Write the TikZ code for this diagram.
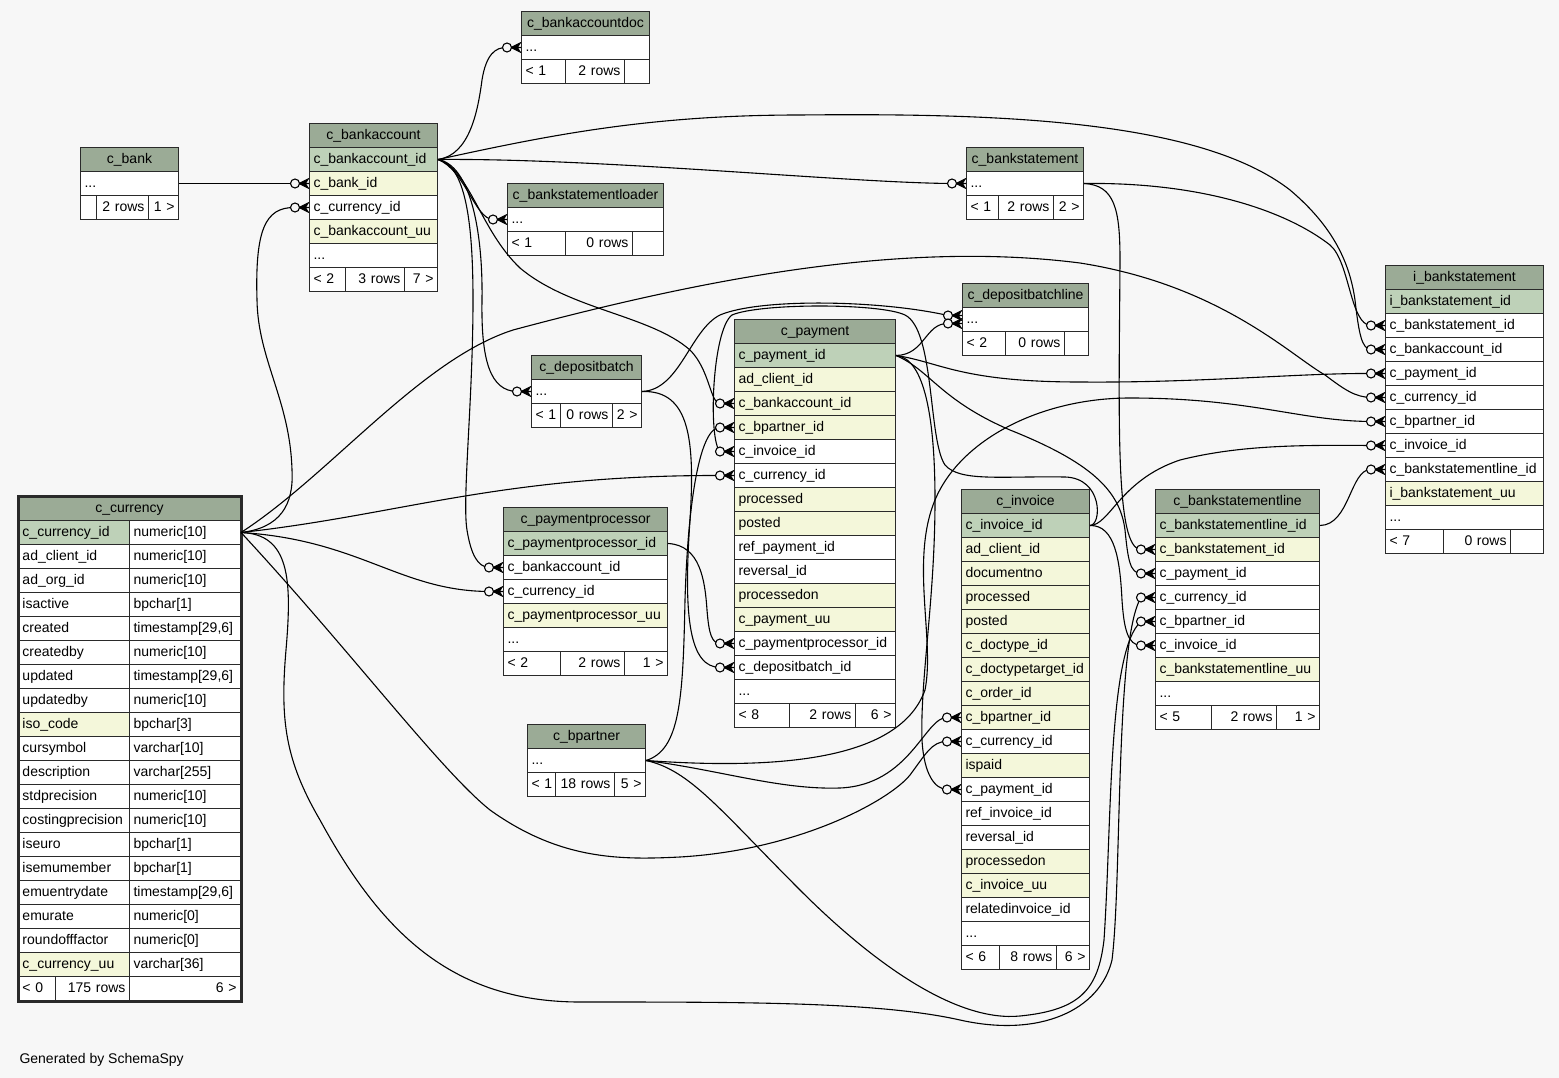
\documentclass[tikz,border=0pt]{standalone}
\usepackage{fontspec}
\setmainfont{Liberation Sans}
\definecolor{bgcol}{HTML}{F7F7F7}
\definecolor{headgreen}{HTML}{9BAB96}
\definecolor{pkgreen}{HTML}{BED1B8}
\definecolor{idxyellow}{HTML}{F4F7DA}
\definecolor{tabline}{HTML}{2A2A2A}
\begin{document}
\begin{tikzpicture}[x=1pt, y=-1pt, font=\fontsize{14}{16}\selectfont,
  tcell/.style={draw=tabline, line width=1pt, fill=white, anchor=north west, inner xsep=4pt, inner ysep=0pt,
    minimum height=24pt, text height=10.5pt, text depth=2.5pt, text width=#1, align=left},
  thead/.style={tcell=#1, fill=headgreen, align=center},
  tpk/.style={tcell=#1, fill=pkgreen},
  tidx/.style={tcell=#1, fill=idxyellow},
  tnum/.style={tcell=#1, align=right},
  rel/.style={draw=black, line width=1.1pt},
  crowfoot/.pic={
    \fill (-10,0) -- (0,-5) -- (-3,0) -- (0,5) -- cycle;
    \draw[rel] (-10,0) -- (0,-5) (-10,0) -- (0,0) (-10,0) -- (0,5);
    \draw[rel, fill=bgcol] (-14,0) circle (4.5pt);
  }]
\fill[bgcol] (0,0) rectangle (1559,1078);
\useasboundingbox (0,0) rectangle (1559,1078);

\node[thead=120pt] (bad) at (521,11) {c\_bankaccountdoc};
\node[tcell=120pt] (bad-dots) at (521,35) {...};
\node[tcell=36pt] (bad-f1) at (521,59) {<~1};
\node[tnum=51pt] (bad-f2) at (565,59) {2~rows};
\node[tcell=17pt] (bad-f3) at (624,59) {};

\node[thead=90pt] (bank) at (80,147) {c\_bank};
\node[tcell=90pt] (bank-dots) at (80,171) {...};
\node[tcell=8pt] (bank-f1) at (80,195) {};
\node[tnum=44pt] (bank-f2) at (96,195) {2~rows};
\node[tnum=22pt] (bank-f3) at (148,195) {1~>};

\node[thead=120pt] (ba) at (309,123) {c\_bankaccount};
\node[tpk=120pt] (ba-id) at (309,147) {c\_bankaccount\_id};
\node[tidx=120pt] (ba-bank) at (309,171) {c\_bank\_id};
\node[tcell=120pt] (ba-cur) at (309,195) {c\_currency\_id};
\node[tidx=120pt] (ba-uu) at (309,219) {c\_bankaccount\_uu};
\node[tcell=120pt] (ba-dots) at (309,243) {...};
\node[tcell=28pt] (ba-f1) at (309,267) {<~2};
\node[tnum=51pt] (ba-f2) at (345,267) {3~rows};
\node[tnum=25pt] (ba-f3) at (404,267) {7~>};

\node[thead=148pt] (ldr) at (507,183) {c\_bankstatementloader};
\node[tcell=148pt] (ldr-dots) at (507,207) {...};
\node[tcell=50pt] (ldr-f1) at (507,231) {<~1};
\node[tnum=59pt] (ldr-f2) at (565,231) {0~rows};
\node[tcell=23pt] (ldr-f3) at (632,231) {};

\node[thead=109pt] (bst) at (966,147) {c\_bankstatement};
\node[tcell=109pt] (bst-dots) at (966,171) {...};
\node[tcell=24pt] (bst-f1) at (966,195) {<~1};
\node[tnum=47pt] (bst-f2) at (998,195) {2~rows};
\node[tnum=22pt] (bst-f3) at (1053,195) {2~>};

\node[thead=118pt] (dbl) at (962,283) {c\_depositbatchline};
\node[tcell=118pt] (dbl-dots) at (962,307) {...};
\node[tcell=35pt] (dbl-f1) at (962,331) {<~2};
\node[tnum=51pt] (dbl-f2) at (1005,331) {0~rows};
\node[tcell=16pt] (dbl-f3) at (1064,331) {};

\node[thead=102pt] (dbat) at (531,355) {c\_depositbatch};
\node[tcell=102pt] (dbat-dots) at (531,379) {...};
\node[tcell=21pt] (dbat-f1) at (531,403) {<~1};
\node[tnum=44pt] (dbat-f2) at (560,403) {0~rows};
\node[tnum=21pt] (dbat-f3) at (612,403) {2~>};

\node[thead=153pt] (pay) at (734,319) {c\_payment};
\node[tpk=153pt] (pay-id) at (734,343) {c\_payment\_id};
\node[tidx=153pt] (pay-cli) at (734,367) {ad\_client\_id};
\node[tidx=153pt] (pay-bacct) at (734,391) {c\_bankaccount\_id};
\node[tidx=153pt] (pay-bp) at (734,415) {c\_bpartner\_id};
\node[tcell=153pt] (pay-inv) at (734,439) {c\_invoice\_id};
\node[tcell=153pt] (pay-cur) at (734,463) {c\_currency\_id};
\node[tidx=153pt] (pay-proc) at (734,487) {processed};
\node[tidx=153pt] (pay-post) at (734,511) {posted};
\node[tcell=153pt] (pay-ref) at (734,535) {ref\_payment\_id};
\node[tcell=153pt] (pay-rev) at (734,559) {reversal\_id};
\node[tidx=153pt] (pay-pon) at (734,583) {processedon};
\node[tidx=153pt] (pay-uu) at (734,607) {c\_payment\_uu};
\node[tcell=153pt] (pay-pp) at (734,631) {c\_paymentprocessor\_id};
\node[tcell=153pt] (pay-db) at (734,655) {c\_depositbatch\_id};
\node[tcell=153pt] (pay-dots) at (734,679) {...};
\node[tcell=47pt] (pay-f1) at (734,703) {<~8};
\node[tnum=58pt] (pay-f2) at (789,703) {2~rows};
\node[tnum=32pt] (pay-f3) at (855,703) {6~>};

\node[thead=156pt] (pp) at (503,507) {c\_paymentprocessor};
\node[tpk=156pt] (pp-id) at (503,531) {c\_paymentprocessor\_id};
\node[tcell=156pt] (pp-bacct) at (503,555) {c\_bankaccount\_id};
\node[tcell=156pt] (pp-cur) at (503,579) {c\_currency\_id};
\node[tidx=156pt] (pp-uu) at (503,603) {c\_paymentprocessor\_uu};
\node[tcell=156pt] (pp-dots) at (503,627) {...};
\node[tcell=49pt] (pp-f1) at (503,651) {<~2};
\node[tnum=56pt] (pp-f2) at (560,651) {2~rows};
\node[tnum=35pt] (pp-f3) at (624,651) {1~>};

\node[thead=110pt] (bp) at (527,724) {c\_bpartner};
\node[tcell=110pt] (bp-dots) at (527,748) {...};
\node[tcell=20pt] (bp-f1) at (527,772) {<~1};
\node[tnum=51pt] (bp-f2) at (555,772) {18~rows};
\node[tnum=23pt] (bp-f3) at (614,772) {5~>};

\node[thead=214pt] (cur) at (18,496) {c\_currency};
\node[tpk=103pt] (cur-id) at (18,520) {c\_currency\_id};
\node[tcell=103pt] (cur-idt) at (129,520) {numeric[10]};
\node[tcell=103pt] (cur-cli) at (18,544) {ad\_client\_id};
\node[tcell=103pt] (cur-clit) at (129,544) {numeric[10]};
\node[tcell=103pt] (cur-org) at (18,568) {ad\_org\_id};
\node[tcell=103pt] (cur-orgt) at (129,568) {numeric[10]};
\node[tcell=103pt] (cur-act) at (18,592) {isactive};
\node[tcell=103pt] (cur-actt) at (129,592) {bpchar[1]};
\node[tcell=103pt] (cur-cr) at (18,616) {created};
\node[tcell=103pt] (cur-crt) at (129,616) {timestamp[29,6]};
\node[tcell=103pt] (cur-crb) at (18,640) {createdby};
\node[tcell=103pt] (cur-crbt) at (129,640) {numeric[10]};
\node[tcell=103pt] (cur-up) at (18,664) {updated};
\node[tcell=103pt] (cur-upt) at (129,664) {timestamp[29,6]};
\node[tcell=103pt] (cur-upb) at (18,688) {updatedby};
\node[tcell=103pt] (cur-upbt) at (129,688) {numeric[10]};
\node[tidx=103pt] (cur-iso) at (18,712) {iso\_code};
\node[tcell=103pt] (cur-isot) at (129,712) {bpchar[3]};
\node[tcell=103pt] (cur-sym) at (18,736) {cursymbol};
\node[tcell=103pt] (cur-symt) at (129,736) {varchar[10]};
\node[tcell=103pt] (cur-desc) at (18,760) {description};
\node[tcell=103pt] (cur-desct) at (129,760) {varchar[255]};
\node[tcell=103pt] (cur-std) at (18,784) {stdprecision};
\node[tcell=103pt] (cur-stdt) at (129,784) {numeric[10]};
\node[tcell=103pt] (cur-cost) at (18,808) {costingprecision};
\node[tcell=103pt] (cur-costt) at (129,808) {numeric[10]};
\node[tcell=103pt] (cur-euro) at (18,832) {iseuro};
\node[tcell=103pt] (cur-eurot) at (129,832) {bpchar[1]};
\node[tcell=103pt] (cur-emu) at (18,856) {isemumember};
\node[tcell=103pt] (cur-emut) at (129,856) {bpchar[1]};
\node[tcell=103pt] (cur-emud) at (18,880) {emuentrydate};
\node[tcell=103pt] (cur-emudt) at (129,880) {timestamp[29,6]};
\node[tcell=103pt] (cur-emur) at (18,904) {emurate};
\node[tcell=103pt] (cur-emurt) at (129,904) {numeric[0]};
\node[tcell=103pt] (cur-round) at (18,928) {roundofffactor};
\node[tcell=103pt] (cur-roundt) at (129,928) {numeric[0]};
\node[tidx=103pt] (cur-uu) at (18,952) {c\_currency\_uu};
\node[tcell=103pt] (cur-uut) at (129,952) {varchar[36]};
\node[tcell=29pt] (cur-f1) at (18,976) {<~0};
\node[tnum=66pt] (cur-f2) at (55,976) {175~rows};
\node[tnum=103pt] (cur-f3) at (129,976) {6~>};
\draw[tabline, line width=3pt] (cur.north west) rectangle (cur-f3.south east);

\node[thead=120pt] (inv) at (961,489) {c\_invoice};
\node[tpk=120pt] (inv-id) at (961,513) {c\_invoice\_id};
\node[tidx=120pt] (inv-cli) at (961,537) {ad\_client\_id};
\node[tidx=120pt] (inv-doc) at (961,561) {documentno};
\node[tidx=120pt] (inv-proc) at (961,585) {processed};
\node[tidx=120pt] (inv-post) at (961,609) {posted};
\node[tidx=120pt] (inv-dt) at (961,633) {c\_doctype\_id};
\node[tidx=120pt] (inv-dtt) at (961,657) {c\_doctypetarget\_id};
\node[tidx=120pt] (inv-ord) at (961,681) {c\_order\_id};
\node[tidx=120pt] (inv-bp) at (961,705) {c\_bpartner\_id};
\node[tcell=120pt] (inv-cur) at (961,729) {c\_currency\_id};
\node[tidx=120pt] (inv-paid) at (961,753) {ispaid};
\node[tcell=120pt] (inv-pay) at (961,777) {c\_payment\_id};
\node[tcell=120pt] (inv-ref) at (961,801) {ref\_invoice\_id};
\node[tcell=120pt] (inv-rev) at (961,825) {reversal\_id};
\node[tidx=120pt] (inv-pon) at (961,849) {processedon};
\node[tidx=120pt] (inv-uu) at (961,873) {c\_invoice\_uu};
\node[tcell=120pt] (inv-rel) at (961,897) {relatedinvoice\_id};
\node[tcell=120pt] (inv-dots) at (961,921) {...};
\node[tcell=30pt] (inv-f1) at (961,945) {<~6};
\node[tnum=49pt] (inv-f2) at (999,945) {8~rows};
\node[tnum=25pt] (inv-f3) at (1056,945) {6~>};

\node[thead=156pt] (bsl) at (1155,489) {c\_bankstatementline};
\node[tpk=156pt] (bsl-id) at (1155,513) {c\_bankstatementline\_id};
\node[tidx=156pt] (bsl-bst) at (1155,537) {c\_bankstatement\_id};
\node[tcell=156pt] (bsl-pay) at (1155,561) {c\_payment\_id};
\node[tcell=156pt] (bsl-cur) at (1155,585) {c\_currency\_id};
\node[tcell=156pt] (bsl-bp) at (1155,609) {c\_bpartner\_id};
\node[tcell=156pt] (bsl-inv) at (1155,633) {c\_invoice\_id};
\node[tidx=156pt] (bsl-uu) at (1155,657) {c\_bankstatementline\_uu};
\node[tcell=156pt] (bsl-dots) at (1155,681) {...};
\node[tcell=48pt] (bsl-f1) at (1155,705) {<~5};
\node[tnum=57pt] (bsl-f2) at (1211,705) {2~rows};
\node[tnum=35pt] (bsl-f3) at (1276,705) {1~>};

\node[thead=150pt] (ibs) at (1385,265) {i\_bankstatement};
\node[tpk=150pt] (ibs-id) at (1385,289) {i\_bankstatement\_id};
\node[tcell=150pt] (ibs-bst) at (1385,313) {c\_bankstatement\_id};
\node[tcell=150pt] (ibs-bacct) at (1385,337) {c\_bankaccount\_id};
\node[tcell=150pt] (ibs-pay) at (1385,361) {c\_payment\_id};
\node[tcell=150pt] (ibs-cur) at (1385,385) {c\_currency\_id};
\node[tcell=150pt] (ibs-bp) at (1385,409) {c\_bpartner\_id};
\node[tcell=150pt] (ibs-inv) at (1385,433) {c\_invoice\_id};
\node[tcell=150pt] (ibs-bsl) at (1385,457) {c\_bankstatementline\_id};
\node[tidx=150pt] (ibs-uu) at (1385,481) {i\_bankstatement\_uu};
\node[tcell=150pt] (ibs-dots) at (1385,505) {...};
\node[tcell=50pt] (ibs-f1) at (1385,529) {<~7};
\node[tnum=59pt] (ibs-f2) at (1443,529) {0~rows};
\node[tcell=25pt] (ibs-f3) at (1510,529) {};

\node[anchor=base west] (gen) at (16,1063) {Generated by SchemaSpy};

\draw[rel] (bank-dots.east) -- ([xshift=-14pt]ba-bank.west);
\draw[rel] (cur-idt.east) .. controls (280,528) and (294,505) .. (292,470) .. controls (290,400) and (258,360) .. (257,300) .. controls (255,230) and (265,207) .. ([xshift=-14pt]ba-cur.west);
\draw[rel] (ba-id.east) .. controls (470,155) and (478,110) .. (482,80) .. controls (486,55) and (495,47) .. ([xshift=-14pt]bad-dots.west);
\draw[rel] (ba-id.east) .. controls (465,170) and (475,219) .. ([xshift=-14pt]ldr-dots.west);
\draw[rel] (ba-id.east) .. controls (600,158) and (850,183) .. ([xshift=-14pt]bst-dots.west);
\draw[rel] (ba-id.east) .. controls (550,135) and (650,115) .. (800,115) .. controls (1000,113) and (1200,120) .. (1290,190) .. controls (1335,228) and (1350,265) .. (1355,300) .. controls (1359,335) and (1362,349) .. ([xshift=-14pt]ibs-bacct.west);
\draw[rel] (ba-id.east) .. controls (470,165) and (483,230) .. (482,300) .. controls (481,360) and (490,391) .. ([xshift=-14pt]dbat-dots.west);
\draw[rel] (ba-id.east) .. controls (465,165) and (473,220) .. (473,300) .. controls (473,400) and (462,500) .. (467,530) .. controls (471,555) and (478,567) .. ([xshift=-14pt]pp-bacct.west);
\draw[rel] (ba-id.east) .. controls (470,170) and (480,230) .. (520,268) .. controls (570,310) and (650,315) .. (690,350) .. controls (710,370) and (710,403) .. ([xshift=-14pt]pay-bacct.west);
\draw[rel] (bst-dots.east) .. controls (1200,182) and (1285,210) .. (1330,245) .. controls (1350,262) and (1350,325) .. ([xshift=-14pt]ibs-bst.west);
\draw[rel] (bst-dots.east) .. controls (1115,185) and (1120,210) .. (1120,260) .. controls (1119,420) and (1115,549) .. ([xshift=-14pt]bsl-bst.west);
\draw[rel] (cur-idt.east) .. controls (400,515) and (500,475) .. ([xshift=-14pt]pay-cur.west);
\draw[rel] (cur-idt.east) .. controls (360,540) and (400,591) .. ([xshift=-14pt]pp-cur.west);
\draw[rel] (cur-idt.east) .. controls (330,475) and (420,360) .. (513,330) .. controls (700,280) and (900,240) .. (1080,263) .. controls (1220,285) and (1290,355) .. (1325,375) .. controls (1345,390) and (1355,397) .. ([xshift=-14pt]ibs-cur.west);
\draw[rel] (cur-idt.east) .. controls (350,650) and (440,770) .. (490,810) .. controls (560,860) and (620,860) .. (680,857) .. controls (800,850) and (890,800) .. (910,775) .. controls (925,755) and (932,741) .. ([xshift=-14pt]inv-cur.west);
\draw[rel] (cur-idt.east) .. controls (290,534) and (292,580) .. (286,650) .. controls (280,720) and (285,760) .. (320,820) .. controls (380,930) and (450,1002) .. (580,1002) .. controls (750,1002) and (880,1002) .. (960,1020) .. controls (1040,1038) and (1100,1010) .. (1112,960) .. controls (1122,880) and (1115,640) .. ([xshift=-14pt]bsl-cur.west);
\draw[rel] (bp-dots.east) .. controls (680,750) and (683,700) .. (685,600) .. controls (688,500) and (700,427) .. ([xshift=-14pt]pay-bp.west);
\draw[rel] (bp-dots.east) .. controls (720,770) and (780,790) .. (840,788) .. controls (910,785) and (925,717) .. ([xshift=-14pt]inv-bp.west);
\draw[rel] (bp-dots.east) .. controls (780,770) and (900,760) .. (925,690) .. controls (935,640) and (910,560) .. (935,500) .. controls (960,440) and (1040,398) .. (1130,398) .. controls (1250,398) and (1300,421) .. ([xshift=-14pt]ibs-bp.west);
\draw[rel] (bp-dots.east) .. controls (690,770) and (720,810) .. (800,890) .. controls (880,970) and (960,1022) .. (1020,1016) .. controls (1080,1010) and (1098,990) .. (1104,940) .. controls (1112,820) and (1108,650) .. ([xshift=-14pt]bsl-bp.west);
\draw[rel] (dbat-dots.east) .. controls (690,390) and (695,440) .. (690,520) .. controls (683,620) and (690,667) .. ([xshift=-14pt]pay-db.west);
\draw[rel] (dbat-dots.east) .. controls (680,390) and (690,330) .. (720,315) .. controls (760,298) and (880,300) .. ([xshift=-14pt,yshift=4pt]dbl-dots.west);
\draw[rel] (pay-id.east) .. controls (925,355) and (925,323) .. ([xshift=-14pt,yshift=-4pt]dbl-dots.west);
\draw[rel] (pay-id.east) .. controls (940,362) and (960,382) .. (1080,382) .. controls (1200,383) and (1300,373) .. ([xshift=-14pt]ibs-pay.west);
\draw[rel] (pay-id.east) .. controls (930,370) and (940,400) .. (1010,430) .. controls (1090,462) and (1120,490) .. (1125,530) .. controls (1128,560) and (1130,573) .. ([xshift=-14pt]bsl-pay.west);
\draw[rel] (pay-id.east) .. controls (925,358) and (935,420) .. (935,500) .. controls (935,600) and (920,680) .. (922,740) .. controls (924,775) and (935,789) .. ([xshift=-14pt]inv-pay.west);
\draw[rel] (inv-id.east) .. controls (1102,525) and (1103,478) .. (1065,477) .. controls (1000,476) and (960,482) .. (945,465) .. controls (928,440) and (935,330) .. (905,315) .. controls (880,303) and (760,303) .. (732,315) .. controls (712,330) and (708,440) .. ([xshift=-14pt]pay-inv.west);
\draw[rel] (inv-id.east) .. controls (1110,525) and (1120,480) .. (1180,460) .. controls (1240,445) and (1300,445) .. ([xshift=-14pt]ibs-inv.west);
\draw[rel] (inv-id.east) .. controls (1115,525) and (1120,560) .. (1122,600) .. controls (1124,630) and (1128,645) .. ([xshift=-14pt]bsl-inv.west);
\draw[rel] (pp-id.east) .. controls (700,545) and (705,580) .. (707,610) .. controls (709,635) and (712,643) .. ([xshift=-14pt]pay-pp.west);
\draw[rel] (bsl-id.east) .. controls (1350,525) and (1350,469) .. ([xshift=-14pt]ibs-bsl.west);

\pic at (ba-bank.west) {crowfoot};
\pic at (ba-cur.west) {crowfoot};
\pic at (bad-dots.west) {crowfoot};
\pic at (ldr-dots.west) {crowfoot};
\pic at (bst-dots.west) {crowfoot};
\pic at (dbat-dots.west) {crowfoot};
\pic at ([yshift=4pt]dbl-dots.west) {crowfoot};
\pic at ([yshift=-4pt]dbl-dots.west) {crowfoot};
\pic at (pay-bacct.west) {crowfoot};
\pic at (pay-bp.west) {crowfoot};
\pic at (pay-inv.west) {crowfoot};
\pic at (pay-cur.west) {crowfoot};
\pic at (pay-pp.west) {crowfoot};
\pic at (pay-db.west) {crowfoot};
\pic at (pp-bacct.west) {crowfoot};
\pic at (pp-cur.west) {crowfoot};
\pic at (inv-bp.west) {crowfoot};
\pic at (inv-cur.west) {crowfoot};
\pic at (inv-pay.west) {crowfoot};
\pic at (bsl-bst.west) {crowfoot};
\pic at (bsl-pay.west) {crowfoot};
\pic at (bsl-cur.west) {crowfoot};
\pic at (bsl-bp.west) {crowfoot};
\pic at (bsl-inv.west) {crowfoot};
\pic at (ibs-bst.west) {crowfoot};
\pic at (ibs-bacct.west) {crowfoot};
\pic at (ibs-pay.west) {crowfoot};
\pic at (ibs-cur.west) {crowfoot};
\pic at (ibs-bp.west) {crowfoot};
\pic at (ibs-inv.west) {crowfoot};
\pic at (ibs-bsl.west) {crowfoot};
\end{tikzpicture}
\end{document}
